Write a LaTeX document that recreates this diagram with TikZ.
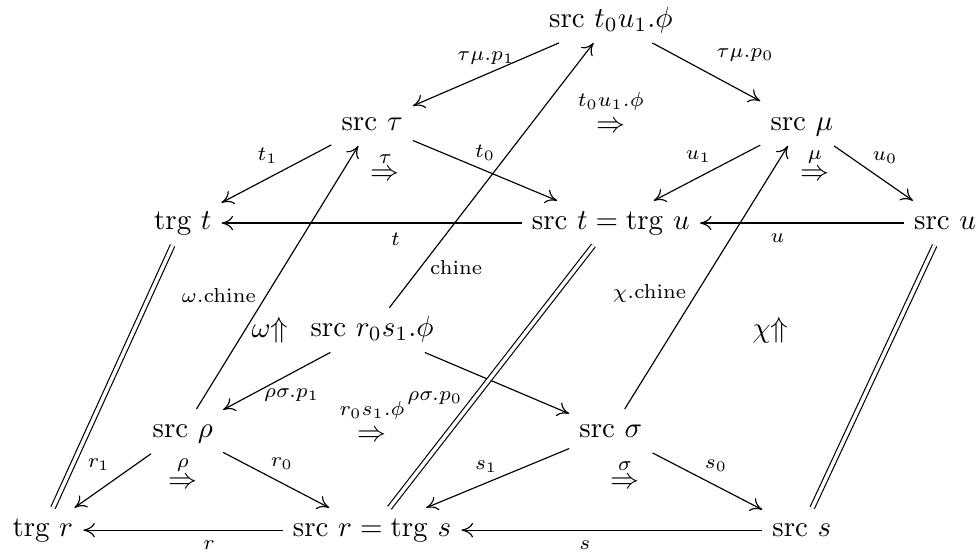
\documentclass[tikz,border=0pt]{standalone}
\usepackage{amsmath}
\usepackage{amssymb}
\usepackage{tikz}
\usetikzlibrary{arrows.meta}

\begin{document}
\begin{tikzpicture}[>={To[length=4pt,width=5pt]},obj/.style={text height=1.5ex,text depth=.45ex},lbl/.style={font=\scriptsize},eq/.style={double,double distance=1.2pt},cell/.style={inner sep=0pt}]
\useasboundingbox (0,0) rectangle (11.88,6.71);
\node[obj] (top) at (7.42,6.46) {src $t_0u_1.\phi$};
\node[obj] (sT) at (4.52,5.21) {src $\tau$};
\node[obj] (sM) at (9.74,5.21) {src $\mu$};
\node[obj] (tT) at (2.22,4.00) {trg $t$};
\node[obj] (sTtU) at (7.42,4.00) {$\mathrm{src}\ t=\mathrm{trg}\ u$};
\node[obj] (sU) at (11.48,4.00) {src $u$};
\node[obj] (sR0) at (4.52,2.70) {src $r_0s_1.\phi$};
\node[obj] (sRho) at (2.22,1.47) {src $\rho$};
\node[obj] (sSig) at (7.42,1.47) {src $\sigma$};
\node[obj] (tR) at (0.52,0.27) {trg $r$};
\node[obj] (sRtS) at (4.52,0.27) {$\mathrm{src}\ r=\mathrm{trg}\ s$};
\node[obj] (sS) at (9.74,0.27) {src $s$};

\draw[->] (top) -- node[lbl,above] {$\tau\mu.p_1$} (sT);
\draw[->] (top) -- node[lbl,above right] {$\tau\mu.p_0$} (sM);
\draw[->] (sT) -- node[lbl,above,xshift=-3pt] {$t_1$} (tT);
\draw[->] (sT) -- node[lbl,above] {$t_0$} (sTtU);
\draw[->] (sM) -- node[lbl,above,xshift=-3pt] {$u_1$} (sTtU);
\draw[->] (sM) -- node[lbl,above,xshift=4pt] {$u_0$} (sU);
\draw[->] (sTtU) -- node[lbl,below,pos=.42] {$t$} (tT);
\draw[->] (sU) -- node[lbl,below,pos=.62] {$u$} (sTtU);
\draw[->] (sR0) -- node[lbl,below,pos=.36,yshift=-2pt] {$\rho\sigma.p_1$} (sRho);
\draw[->] (sR0) -- node[lbl,below left,pos=.33,yshift=-3pt] {$\rho\sigma.p_0$} (sSig);
\draw[->] (sRho) -- node[lbl,above left,xshift=2.5pt] {$r_1$} (tR);
\draw[->] (sRho) -- node[lbl,above,xshift=2pt] {$r_0$} (sRtS);
\draw[->] (sSig) -- node[lbl,above,xshift=-4pt,yshift=-1.5pt] {$s_1$} (sRtS);
\draw[->] (sSig) -- node[lbl,above,xshift=3pt] {$s_0$} (sS);
\draw[->] (sRtS) -- node[lbl,below,pos=.37] {$r$} (tR);
\draw[->] (sS) -- node[lbl,below,pos=.59] {$s$} (sRtS);
\draw[->] (sRho) -- node[lbl,left,pos=.43] {$\omega.\mathrm{chine}$} (sT);
\draw[->] (sR0) -- node[lbl,right,pos=.15] {chine} (top);
\draw[->] (sSig) -- node[lbl,left,pos=.44] {$\chi.\mathrm{chine}$} (sM);
\draw[eq] (tR) -- (tT);
\draw[eq] (sRtS) -- (sTtU);
\draw[eq] (sS) -- (sU);

\node[cell,label={[lbl,inner sep=2pt]above:$\tau$}] (cTau) at (4.68,4.58) {$\Rightarrow$};
\node[cell,label={[lbl,inner sep=3.5pt]above:$t_0u_1.\phi$}] (cPhiT) at (7.42,5.17) {$\Rightarrow$};
\node[cell,label={[lbl,inner sep=2pt]above:$\mu$}] (cMu) at (9.90,4.58) {$\Rightarrow$};
\node[cell,label={[lbl,inner sep=2pt]above:$\rho$}] (cRho) at (2.22,0.84) {$\Rightarrow$};
\node[cell,label={[lbl,inner sep=3.5pt]above:$r_0s_1.\phi$}] (cPhiB) at (4.52,1.41) {$\Rightarrow$};
\node[cell,label={[lbl,inner sep=2pt]above:$\sigma$}] (cSig) at (7.59,0.84) {$\Rightarrow$};
\node (cOm) at (3.28,2.70) {$\omega{\Uparrow}$};
\node (cChi) at (9.36,2.70) {$\chi{\Uparrow}$};
\end{tikzpicture}
\end{document}
